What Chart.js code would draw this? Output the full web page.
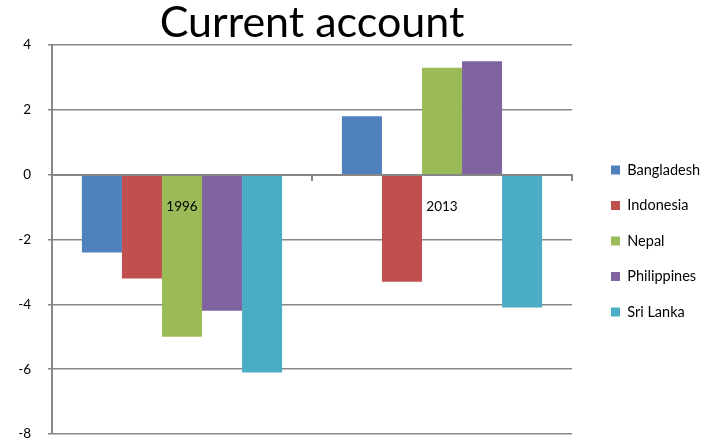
<!DOCTYPE html>
<html>
<head>
<meta charset="utf-8">
<script src="https://cdn.jsdelivr.net/npm/chart.js@4"></script>
<style>
  body { margin: 0; background: #fff; }
  #wrap { width: 708px; height: 442px; }
</style>
</head>
<body>
<div id="wrap"><canvas id="myChart" width="708" height="442"></canvas></div>
<script>
var years = ['1996', '2013'];
var bangladesh = [-2.4, 1.8];
var indonesia = [-3.2, -3.3];
var nepal = [-5.0, 3.3];
var philippines = [-4.2, 3.5];
var sriLanka = [-6.1, -4.1];
var yTicks = [-8, -6, -4, -2, 0, 2, 4];

var axisGray = '#878787';

var ctx = document.getElementById('myChart').getContext('2d');
var myChart = new Chart(ctx, {
  type: 'bar',
  data: {
    labels: years,
    datasets: [
      { label: 'Bangladesh', data: bangladesh, backgroundColor: '#4F81BD' },
      { label: 'Indonesia', data: indonesia, backgroundColor: '#C0504D' },
      { label: 'Nepal', data: nepal, backgroundColor: '#9BBB59' },
      { label: 'Philippines', data: philippines, backgroundColor: '#8064A2' },
      { label: 'Sri Lanka', data: sriLanka, backgroundColor: '#4BACC6' }
    ]
  },
  options: {
    responsive: false,
    animation: false,
    categoryPercentage: 0.77,
    barPercentage: 1.0,
    layout: { padding: { left: 0, right: 0, top: 0, bottom: 8 } },
    plugins: {
      title: {
        display: true,
        text: 'Current account',
        fullSize: false,
        color: '#000',
        font: { family: 'Lato', size: 43, weight: 'normal', lineHeight: 1.0 },
        padding: { top: 2, bottom: 0 }
      },
      legend: {
        position: 'right',
        // blank legend title just pushes the items down to the plot's middle
        title: { display: true, text: ' ', font: { size: 10 }, padding: 18 },
        labels: {
          color: '#000',
          font: { family: 'Lato', size: 14.5 },
          boxWidth: 9,
          boxHeight: 9,
          padding: 21
        }
      },
      tooltip: { enabled: false }
    },
    scales: {
      x: {
        position: { y: 0 },
        afterFit: function (s) { s.height = 0; },
        border: { display: true, color: axisGray, width: 2, z: 1 },
        grid: { drawOnChartArea: false, drawTicks: true, tickLength: 5, color: axisGray, lineWidth: 2, offset: true, z: 1 },
        ticks: { color: '#000', font: { family: 'Lato', size: 13.5 }, padding: 19, z: 1 }
      },
      y: {
        min: -8,
        max: 4,
        afterBuildTicks: function (s) { s.ticks = yTicks.map(function (v) { return { value: v }; }); },
        afterFit: function (s) { s.width = 52; s.paddingTop = 8; s.paddingBottom = 8; },
        border: { display: true, color: axisGray, width: 2 },
        grid: { color: axisGray, lineWidth: 1.5, tickLength: 4 },
        ticks: { color: '#000', font: { family: 'Lato', size: 13.5 }, padding: 17 }
      },
      // empty right-hand axis, only used as a gap before the legend
      gap: {
        type: 'linear',
        axis: 'y',
        position: 'right',
        grid: { display: false },
        border: { display: false },
        ticks: { display: false },
        afterFit: function (s) { s.width = 18; }
      }
    }
  }
});
</script>
</body>
</html>
